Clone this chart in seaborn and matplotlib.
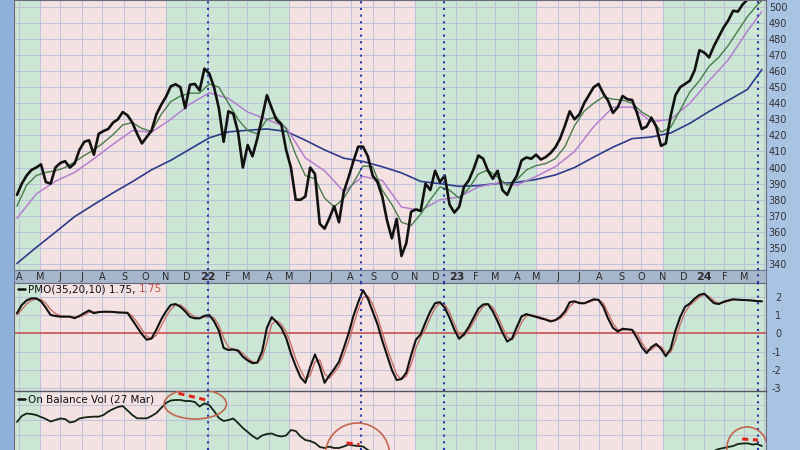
import numpy as np
import pandas as pd
import matplotlib
matplotlib.use("Agg")
import matplotlib.pyplot as plt
import seaborn as sns
from matplotlib.patches import Ellipse, Rectangle

# weekly samples (one per trading week, Apr 2021 - 27 Mar 2024)
close = [383, 390, 395, 398.5, 400, 402, 391, 390, 400, 402.8,
         404, 400, 402.5, 411, 416, 417, 408, 421, 422.7, 424,
         428, 430, 434.5, 432.5, 428, 421, 415, 419, 423, 433,
         439, 444, 450.5, 451.8, 450, 437, 451.5, 452, 448, 461.5,
         458.5, 450, 437, 416, 435, 433.5, 422, 400, 414, 407,
         418, 431, 445, 437, 429.5, 427, 411, 400, 380, 380,
         382, 400, 396, 365, 362, 368.5, 376, 366, 385, 394,
         404, 413, 413, 407, 395, 391, 382, 367, 356, 368,
         345, 353, 372.5, 374, 373, 390, 386, 398, 391, 395,
         377, 372, 375.5, 388, 392, 399, 407.5, 405.5, 398, 393,
         398, 386, 383, 390, 395, 404.5, 406.3, 405.5, 408, 405,
         406.5, 409, 412.5, 418, 426, 435, 430, 433, 440, 445,
         450, 452, 446, 441.5, 434, 437.5, 444.5, 442.5, 442, 434,
         424, 425.5, 431, 425.5, 413.5, 415, 432, 445, 450, 452,
         454, 460.5, 473, 471.5, 468.5, 475.5, 481.3, 487, 491.5, 497.5,
         497, 501.5, 504.5, 507, 509, 510]

pmo = [1.1, 1.55, 1.8, 1.91, 1.91, 1.75, 1.4, 1.0, 0.95, 0.91,
       0.91, 0.91, 0.83, 0.95, 1.11, 1.25, 1.1, 1.16, 1.18, 1.18,
       1.17, 1.14, 1.13, 1.12, 0.73, 0.33, -0.05, -0.35, -0.28, 0.2,
       0.75, 1.2, 1.55, 1.6, 1.45, 1.2, 0.9, 0.82, 0.82, 0.96,
       1.0, 0.66, 0.15, -0.8, -0.91, -0.88, -0.95, -1.28, -1.48, -1.63,
       -1.6, -1.0, 0.3, 0.88, 0.62, 0.3, -0.25, -1.1, -1.8, -2.4,
       -2.7, -1.85, -1.15, -1.8, -2.7, -2.3, -1.95, -1.55, -0.8, 0.0,
       0.95, 1.7, 2.35, 1.9, 1.2, 0.5, -0.4, -1.2, -2.0, -2.55,
       -2.5, -2.15, -1.2, -0.35, -0.05, 0.6, 1.2, 1.65, 1.7, 1.4,
       0.85, 0.2, -0.3, -0.05, 0.35, 0.85, 1.35, 1.58, 1.6, 1.2,
       0.65, 0.05, -0.45, -0.28, 0.35, 0.93, 1.05, 0.97, 0.9, 0.82,
       0.75, 0.65, 0.72, 0.9, 1.2, 1.7, 1.75, 1.65, 1.64, 1.75,
       1.86, 1.83, 1.45, 0.8, 0.3, 0.1, 0.25, 0.22, 0.19, -0.25,
       -0.75, -1.08, -0.75, -0.58, -0.85, -1.25, -0.85, 0.15, 0.9, 1.45,
       1.63, 1.9, 2.1, 2.17, 1.9, 1.65, 1.6, 1.72, 1.8, 1.86,
       1.84, 1.82, 1.81, 1.79, 1.76, 1.75]

pmo_signal = [1.0, 1.3, 1.6, 1.8, 1.88, 1.85, 1.65, 1.3, 1.08, 0.97,
              0.93, 0.92, 0.88, 0.9, 1.0, 1.15, 1.17, 1.16, 1.17, 1.18,
              1.17, 1.16, 1.14, 1.13, 0.95, 0.6, 0.2, -0.15, -0.3, -0.1,
              0.4, 0.9, 1.3, 1.55, 1.55, 1.35, 1.08, 0.9, 0.84, 0.88,
              0.95, 0.85, 0.45, -0.25, -0.75, -0.88, -0.9, -1.1, -1.35, -1.55,
              -1.62, -1.35, -0.5, 0.5, 0.7, 0.5, 0.1, -0.6, -1.4, -2.0,
              -2.5, -2.3, -1.55, -1.45, -2.2, -2.45, -2.15, -1.8, -1.2, -0.45,
              0.45, 1.3, 1.95, 2.05, 1.6, 0.9, 0.05, -0.8, -1.55, -2.25,
              -2.5, -2.35, -1.7, -0.8, -0.2, 0.25, 0.85, 1.4, 1.65, 1.58,
              1.15, 0.5, -0.05, -0.15, 0.15, 0.6, 1.1, 1.45, 1.6, 1.42,
              0.95, 0.35, -0.2, -0.35, 0.0, 0.6, 0.95, 1.0, 0.95, 0.87,
              0.79, 0.7, 0.7, 0.8, 1.05, 1.45, 1.7, 1.7, 1.65, 1.7,
              1.8, 1.84, 1.65, 1.1, 0.55, 0.2, 0.18, 0.22, 0.2, 0.0,
              -0.5, -0.9, -0.9, -0.68, -0.72, -1.05, -1.05, -0.4, 0.5, 1.15,
              1.53, 1.75, 1.98, 2.12, 2.02, 1.78, 1.65, 1.68, 1.75, 1.82,
              1.84, 1.83, 1.82, 1.8, 1.77, 1.75]

obv = [1740, 1920, 1995, 1980, 1950, 1890, 1830, 1755, 1800, 1845,
       1830, 1725, 1755, 1845, 1875, 1890, 1900, 1900, 1950, 2055,
       2130, 2190, 2220, 2085, 1950, 1850, 1850, 1850, 1920, 2010,
       2160, 2310, 2385, 2400, 2400, 2370, 2370, 2340, 2205, 2300,
       2250, 2070, 1860, 1770, 1800, 1845, 1710, 1560, 1440, 1320,
       1230, 1335, 1380, 1395, 1335, 1305, 1335, 1500, 1470, 1305,
       1200, 1170, 1110, 990, 960, 1000, 960, 960, 1005, 1065,
       1035, 1020, 1005, 900, 840, 795, 750, 720, 660, 630,
       570, 600, 630, 600, 570, 600, 630, 660, 630, 600,
       540, 510, 540, 570, 600, 630, 660, 630, 570, 510,
       480, 420, 450, 510, 540, 570, 570, 540, 570, 600,
       570, 600, 630, 660, 690, 720, 690, 720, 720, 750,
       750, 720, 660, 600, 570, 600, 600, 570, 540, 480,
       420, 420, 450, 420, 360, 390, 480, 570, 630, 660,
       690, 750, 780, 780, 810, 870, 930, 960, 990, 1020,
       1080, 1095, 1100, 1065, 1080, 1020]

# moving averages, every 2nd / 4th week plus the last day
ema20 = [376, 389, 395, 397, 398, 400, 403.5, 407.5, 411, 415.5,
         420.5, 426.5, 428, 424.3, 422.5, 433, 441, 444.5, 446.3, 446.3,
         452, 450, 440, 430, 423, 421, 430, 431.4, 424, 408,
         395, 393, 381, 375.5, 381, 390.5, 401, 400.5, 386, 377,
         366, 364, 371, 380, 388, 386, 381, 387, 396, 398.5,
         394, 389, 392.5, 398.5, 401.2, 402.5, 405.5, 413, 426, 435,
         440, 444, 442.5, 442, 440, 434.5, 431, 422, 425, 435.8,
         447, 454, 463, 468.5, 476, 485, 494, 501, 504]
sma50 = [368.5, 383.5, 391.5, 397, 405.5, 414.5, 423, 422, 430, 439.5,
         446.5, 443, 434.5, 430, 425, 406, 398, 385, 394.5, 392,
         375.5, 373.3, 380, 381.7, 388, 390.4, 389, 394.5, 400.5, 410,
         425.5, 437.5, 437.6, 428.5, 430, 440, 454, 467, 485, 497]
sma200 = [340.4, 350.3, 359.8, 369.5, 377, 384.3, 391.2, 398.6, 404.5, 411.5,
          418.5, 422.2, 423.2, 424, 422.5, 417, 411, 405.8, 403.8, 400.5,
          396.7, 391.4, 390, 388.3, 388.8, 390.1, 390.8, 392.6, 395.4, 400,
          406.5, 412.7, 418, 419, 421.5, 427.5, 434.9, 441.8, 448.6, 461]

last_day = "2024-03-27"
signal_days = ["2022-01-03", "2022-08-16", "2022-12-13", "2024-03-21"]

nyse_holidays = ["2021-04-02", "2021-05-31", "2021-07-05", "2021-09-06", "2021-11-25",
                 "2021-12-24", "2022-01-17", "2022-02-21", "2022-04-15", "2022-05-30",
                 "2022-06-20", "2022-07-04", "2022-09-05", "2022-11-24", "2022-12-26",
                 "2023-01-02", "2023-01-16", "2023-02-20", "2023-04-07", "2023-05-29",
                 "2023-06-19", "2023-07-04", "2023-09-04", "2023-11-23", "2023-12-25",
                 "2024-01-01", "2024-01-15", "2024-02-19", "2024-03-29"]

sns.set_theme(style="white")
plt.rcParams["font.family"] = ["DejaVu Sans"]
plt.rcParams["axes.unicode_minus"] = False

GREEN = "#cbe6d4"
PINK = "#f4e1e1"
GRID = "#b8bbd7"
DOTS = "#2a38a8"
RING = "#c0664f"
OBV_FLOOR = 900  # lowest OBV value inside the visible strip

# x axis runs on trading sessions, like the original chart
sessions = pd.bdate_range("2021-03-24", "2024-04-30", freq="C", holidays=nyse_holidays)


def pos(d):
    return sessions.searchsorted(pd.to_datetime(d))


week_pos = np.linspace(3.7, pos(last_day), len(close))
ema_pos = np.append(week_pos[::2], week_pos[-1])
sma_pos = np.append(week_pos[::4], week_pos[-1])

months = pd.date_range("2021-03-01", "2024-05-01", freq="MS")
mpos = pos(months)
XLIM = (0.7, 761.1)

fig = plt.figure(figsize=(8, 4.5), dpi=100, facecolor="#a9c3e3")
fig.add_artist(Rectangle((0, 0), 14 / 800, 1, transform=fig.transFigure,
                         facecolor="#8fb1d9", edgecolor="none"))


def rect(x0, y0, x1, y1):
    return [x0 / 800, 1 - y1 / 450, (x1 - x0) / 800, (y1 - y0) / 450]


ax_p = fig.add_axes(rect(14, 0, 766, 270))
ax_d = fig.add_axes(rect(14, 270, 766, 283))
ax_m = fig.add_axes(rect(14, 283, 766, 391))
ax_o = fig.add_axes(rect(14, 391, 766, 450))


def panel(ax, hlines):
    for i in range(len(mpos) - 1):
        col = GREEN if months[i].month in (11, 12, 1, 2, 3, 4) else PINK
        ax.axvspan(mpos[i], mpos[i + 1], color=col, lw=0, zorder=0)
    for p in mpos:
        ax.axvline(p, color=GRID, lw=0.6, zorder=0.5)
    for v in hlines:
        ax.axhline(v, color=GRID, lw=0.6, zorder=0.5)
    ax.set_xlim(*XLIM)
    ax.set_xticks([])
    ax.set_xlabel("")
    ax.set_ylabel("")
    for s in ax.spines.values():
        s.set_color("#6a6a78")
        s.set_linewidth(0.8)


# price panel
panel(ax_p, range(340, 510, 10))
sns.lineplot(x=sma_pos, y=sma200, ax=ax_p, color="#2d3a8a", lw=1.2, estimator=None, sort=False)
sns.lineplot(x=sma_pos, y=sma50, ax=ax_p, color="#b47fd0", lw=1.1, estimator=None, sort=False)
sns.lineplot(x=ema_pos, y=ema20, ax=ax_p, color="#467d4a", lw=1.0, estimator=None, sort=False)
sns.lineplot(x=week_pos, y=close, ax=ax_p, color="#111111", lw=1.9, estimator=None, sort=False)
ax_p.set_ylim(336.3, 504.2)
ax_p.yaxis.tick_right()
ax_p.set_yticks(range(340, 510, 10))
ax_p.tick_params(axis="y", length=0, pad=2, labelsize=7, labelcolor="#333333")
ax_p.set_xlim(*XLIM)

# date band
ax_d.set_facecolor("#a7b7cb")
ax_d.set_xlim(*XLIM)
ax_d.set_ylim(0, 1)
ax_d.set_xticks([])
ax_d.set_yticks([])
for s in ax_d.spines.values():
    s.set_color("#6a7a94")
    s.set_linewidth(0.8)
for m, p in zip(months, mpos):
    if m < pd.Timestamp("2021-04-01") or m > pd.Timestamp("2024-03-01"):
        continue
    if m.month == 1:
        ax_d.text(p, 0.45, m.strftime("%y"), ha="center", va="center",
                  fontsize=8, fontweight="bold", color="#2b2b2b")
    else:
        ax_d.text(p, 0.45, m.strftime("%b")[0], ha="center", va="center",
                  fontsize=7, color="#2b2b2b")

# PMO panel
panel(ax_m, range(-3, 3))
ax_m.axhline(0, color="#c44a4a", lw=1.1, zorder=1)
sns.lineplot(x=week_pos, y=pmo_signal, ax=ax_m, color="#c76f68", lw=1.0, estimator=None, sort=False)
sns.lineplot(x=week_pos, y=pmo, ax=ax_m, color="#111111", lw=1.5, estimator=None, sort=False)
ax_m.set_ylim(-3.15, 2.75)
ax_m.yaxis.tick_right()
ax_m.set_yticks(range(-3, 3))
ax_m.tick_params(axis="y", length=0, pad=11, labelsize=7, labelcolor="#333333")
for lbl in ax_m.get_yticklabels():
    lbl.set_horizontalalignment("right")
ax_m.set_xlim(*XLIM)
ax_m.plot([0.005, 0.0145], [0.944, 0.944], transform=ax_m.transAxes, color="#111111", lw=1.8)
t1 = ax_m.text(0.0186, 0.944, "PMO(35,20,10) 1.75, ", transform=ax_m.transAxes,
               fontsize=7.5, va="center", color="#111111")
ax_m.annotate("1.75", xy=(1, 0), xycoords=t1, va="bottom", fontsize=7.5, color="#c0504a")

# OBV panel: only its upper part is visible, as in the original
panel(ax_o, range(1350, 2700, 450))
ax_o.spines["top"].set_color("#555560")
ax_o.spines["top"].set_linewidth(1.0)
ax_o.spines["bottom"].set_visible(False)
obv_arr = np.array(obv)
shown = obv_arr >= OBV_FLOOR
shown = shown | np.roll(shown, 1) | np.roll(shown, -1)
idx = np.flatnonzero(shown)
for run in np.split(idx, np.flatnonzero(np.diff(idx) > 1) + 1):
    sns.lineplot(x=week_pos[run], y=obv_arr[run], ax=ax_o, color="#142414", lw=1.3,
                 estimator=None, sort=False)
ax_o.set_ylim(OBV_FLOOR, 2670)
ax_o.set_yticks([])
ax_o.set_xlim(*XLIM)
ax_o.plot([0.005, 0.0145], [0.864, 0.864], transform=ax_o.transAxes, color="#111111", lw=1.8)
ax_o.text(0.0186, 0.864, "On Balance Vol (27 Mar)", transform=ax_o.transAxes,
          fontsize=7.5, va="center", color="#111111")

rings = [("2021-12-14", 2280, 63, 900), ("2022-08-10", 750, 65, 1920), ("2024-03-06", 960, 41, 1260)]
for d, yc, w, h in rings:
    ax_o.add_patch(Ellipse((pos(d), yc), w, h, facecolor="none", edgecolor=RING, lw=1.2,
                           zorder=5, clip_on=True))
dashes = [("2021-11-18", "2021-12-30", 2600, 2400), ("2022-07-26", "2022-08-12", 1110, 1065),
          ("2024-02-28", "2024-03-21", 1230, 1200)]
for d0, d1, y0, y1 in dashes:
    ax_o.plot([pos(d0), pos(d1)], [y0, y1], color="#e0241c", lw=2.2, ls=(0, (2, 1.5)), zorder=6)

for d in signal_days:
    for ax in (ax_p, ax_d, ax_m, ax_o):
        ax.axvline(pos(d), color=DOTS, lw=1.5, ls=(0, (1, 2.2)), zorder=4)

fig.savefig("out.png", dpi=100, facecolor=fig.get_facecolor())
